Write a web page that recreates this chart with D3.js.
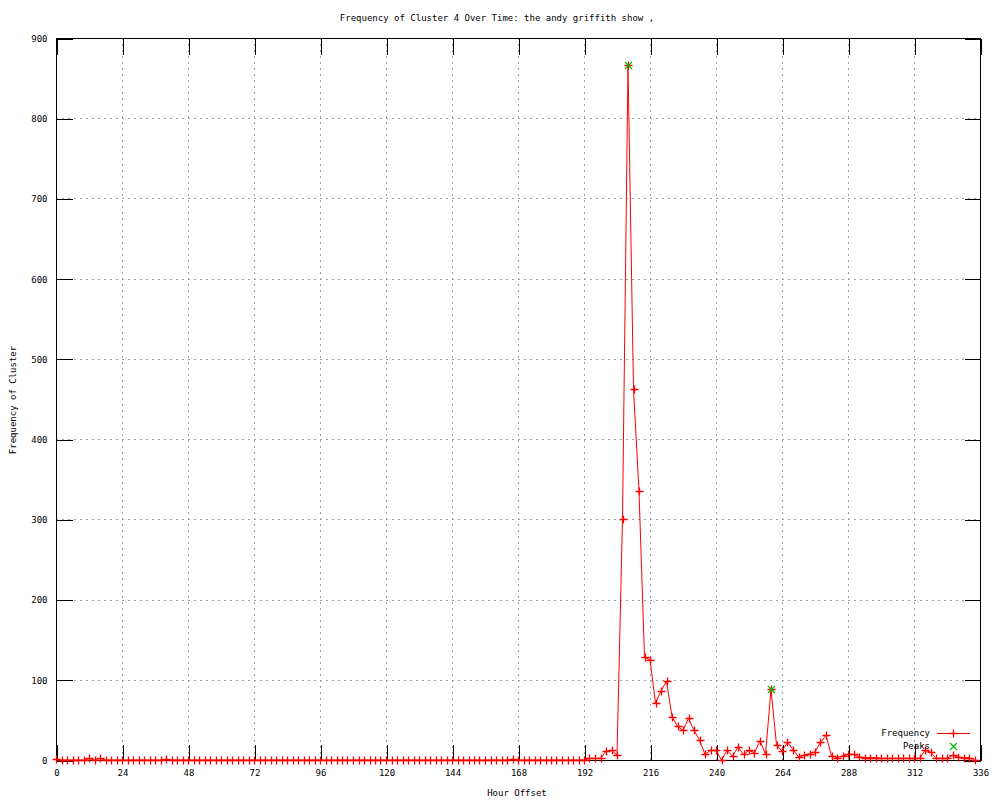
<!DOCTYPE html>
<html>
<head>
<meta charset="utf-8">
<script src="https://cdn.jsdelivr.net/npm/d3@7"></script>
<style>
  html, body { margin: 0; padding: 0; background: #fff; }
  svg { display: block; }
  text { font-family: "DejaVu Sans Mono", "Liberation Mono", monospace; font-size: 9px; fill: #000; }
</style>
</head>
<body>
<svg id="chart" width="1000" height="800"></svg>
<script>
// ---- data ----
const hours = [
  0,2,4,6,8,10,12,14,16,18,20,22,
  24,26,28,30,32,34,36,38,40,42,44,46,
  48,50,52,54,56,58,60,62,64,66,68,70,
  72,74,76,78,80,82,84,86,88,90,92,94,
  96,98,100,102,104,106,108,110,112,114,116,118,
  120,122,124,126,128,130,132,134,136,138,140,142,
  144,146,148,150,152,154,156,158,160,162,164,166,
  168,170,172,174,176,178,180,182,184,186,188,190,
  192,194,196,198,200,202,204,206,208,210,212,214,
  216,218,220,222,224,226,228,230,232,234,236,238,
  240,242,244,246,248,250,252,254,256,258,260,262,
  264,266,268,270,272,274,276,278,280,282,284,286,
  288,290,292,294,296,298,300,302,304,306,308,310,
  312,314,316,318,320,322,324,326,328,330,332,334
];
const frequency = [
  1,0,0,0,0,0,2,0,2,0,0,0,
  0,0,0,0,0,0,0,0,1,0,0,0,
  0,0,0,0,0,0,0,0,0,0,0,0,
  0,0,0,0,0,0,0,0,0,0,0,0,
  0,0,0,0,0,0,0,0,0,0,0,0,
  0,0,0,0,0,0,0,0,0,0,0,0,
  0,0,0,0,0,0,0,0,0,0,0,1,
  0,0,0,0,0,0,0,0,0,0,0,0,
  0,2,2,2,11,12,6,301,866,462,335,128,
  125,71,86,98,54,42,37,52,37,25,7,12,
  12,0,12,5,16,7,12,9,24,7,88,19,
  11,22,13,4,6,8,10,22,31,5,3,5,
  7,7,4,3,3,3,2,2,2,2,2,2,
  2,2,12,10,2,2,2,6,4,3,3,0
];
const peakHours = [208, 260];
const peakValues = [866, 88];
const xTicks = [0,24,48,72,96,120,144,168,192,216,240,264,288,312,336];
const yTicks = [0,100,200,300,400,500,600,700,800,900];
const titleText = "Frequency of Cluster 4 Over Time: the andy griffith show ,";
const xLabel = "Hour Offset";
const yLabel = "Frequency of Cluster";
const seriesNames = ["Frequency", "Peaks"];

// ---- layout ----
const L = 56, R = 980, T = 38, B = 760;
const svg = d3.select("#chart");
const x = d3.scaleLinear().domain([0, 336]).range([L, R]);
const y = d3.scaleLinear().domain([0, 900]).range([B, T]);
const px = v => Math.round(v) + 0.5;

const red = "#ff0000", green = "#00c000", grey = "#a0a0a0";
const tickLen = 16;

// grid
const grid = svg.append("g").attr("shape-rendering", "crispEdges");
grid.selectAll("line.gx").data(xTicks.slice(1, -1)).enter().append("line")
  .attr("x1", d => px(x(d))).attr("x2", d => px(x(d)))
  .attr("y1", T).attr("y2", B)
  .attr("stroke", grey).attr("stroke-dasharray", "2,4");
grid.selectAll("line.gy").data(yTicks.slice(1, -1)).enter().append("line")
  .attr("y1", d => px(y(d))).attr("y2", d => px(y(d)))
  .attr("x1", L).attr("x2", R)
  .attr("stroke", grey).attr("stroke-dasharray", "2,4");

// axes with inward ticks
const axB = d3.axisBottom(x).tickValues(xTicks).tickSize(-tickLen).tickPadding(9).tickFormat(d3.format("d"));
const axT = d3.axisTop(x).tickValues(xTicks).tickSize(-tickLen).tickFormat("");
const axL = d3.axisLeft(y).tickValues(yTicks).tickSize(-tickLen).tickPadding(9).tickFormat(d3.format("d"));
const axR = d3.axisRight(y).tickValues(yTicks).tickSize(-tickLen).tickFormat("");

function styleAxis(g) {
  g.select(".domain").remove();
  g.selectAll(".tick line").attr("stroke", "#000").attr("shape-rendering", "crispEdges");
  g.selectAll("text").attr("font-family", null).attr("font-size", null).attr("fill", "#000");
}
svg.append("g").attr("transform", `translate(0.5,${B + 0.5})`).call(axB).call(styleAxis);
svg.append("g").attr("transform", `translate(0.5,${T + 0.5})`).call(axT).call(styleAxis);
svg.append("g").attr("transform", `translate(${L + 0.5},0.5)`).call(axL).call(styleAxis);
svg.append("g").attr("transform", `translate(${R + 0.5},0.5)`).call(axR).call(styleAxis);

// frame
svg.append("rect").attr("x", L + 0.5).attr("y", T + 0.5).attr("width", R - L).attr("height", B - T)
  .attr("fill", "none").attr("stroke", "#000").attr("shape-rendering", "crispEdges");

// frequency line
const pts = hours.map((h, i) => [h, frequency[i]]);
svg.append("path").datum(pts)
  .attr("d", d3.line().x(d => x(d[0])).y(d => y(d[1])))
  .attr("fill", "none").attr("stroke", red).attr("stroke-width", 1);

const plusPath = (cx, cy, s) => `M${cx - s},${cy}H${cx + s}M${cx},${cy - s}V${cy + s}`;
const crossPath = (cx, cy, s) => `M${cx - s},${cy - s}L${cx + s},${cy + s}M${cx - s},${cy + s}L${cx + s},${cy - s}`;

svg.append("g").selectAll("path").data(pts).enter().append("path")
  .attr("d", d => plusPath(Math.round(x(d[0])) + 0.5, Math.round(y(d[1])) + 0.5, 4))
  .attr("stroke", red).attr("stroke-width", 1.3).attr("fill", "none");

// peaks
const peaks = peakHours.map((h, i) => [h, peakValues[i]]);
svg.append("g").selectAll("path").data(peaks).enter().append("path")
  .attr("d", d => crossPath(Math.round(x(d[0])) + 0.5, Math.round(y(d[1])) + 0.5, 3.5))
  .attr("stroke", green).attr("stroke-width", 1.2).attr("fill", "none");

// legend
const leg = svg.append("g");
leg.append("text").attr("x", 930).attr("y", 733).attr("text-anchor", "end").attr("dy", "0.35em").text(seriesNames[0]);
leg.append("line").attr("x1", 937).attr("x2", 970).attr("y1", 733.5).attr("y2", 733.5).attr("stroke", red);
leg.append("path").attr("d", plusPath(953.5, 733.5, 4)).attr("stroke", red).attr("stroke-width", 1.3);
leg.append("text").attr("x", 930).attr("y", 746).attr("text-anchor", "end").attr("dy", "0.35em").text(seriesNames[1]);
leg.append("path").attr("d", crossPath(953.5, 746.5, 3.5)).attr("stroke", green).attr("stroke-width", 1.2);

// titles
svg.append("text").attr("x", 497).attr("y", 18).attr("text-anchor", "middle").attr("dy", "0.35em").text(titleText);
svg.append("text").attr("x", 517).attr("y", 793).attr("text-anchor", "middle").attr("dy", "0.35em").text(xLabel);
svg.append("text").attr("transform", "translate(13,400) rotate(-90)").attr("text-anchor", "middle").attr("dy", "0.35em").text(yLabel);
</script>
</body>
</html>
